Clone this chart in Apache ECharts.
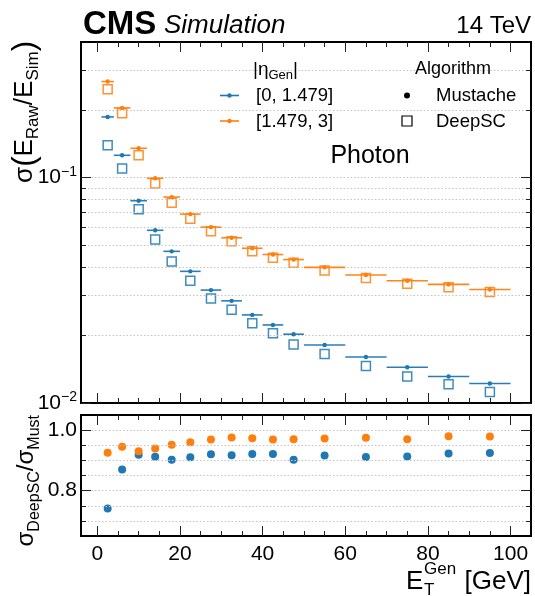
<!DOCTYPE html>
<html><head><meta charset="utf-8">
<script src="https://cdn.jsdelivr.net/npm/echarts@6/dist/echarts.min.js"></script>
<style>html,body{margin:0;padding:0;background:#fff}#c{width:535px;height:596px}</style>
</head><body><div id="c"></div>
<script>
// ---- data ----
const binCenter = [2.5, 6, 10, 14, 18, 22.5, 27.5, 32.5, 37.5, 42.5, 47.5, 55, 65, 75, 85, 95];
const binLow    = [1, 4, 8, 12, 16, 20, 25, 30, 35, 40, 45, 50, 60, 70, 80, 90];
const binHigh   = [4, 8, 12, 16, 20, 25, 30, 35, 40, 45, 50, 60, 70, 80, 90, 100];
const mustacheEB = [0.186, 0.1257, 0.0790, 0.0584, 0.0471, 0.0384, 0.0317, 0.0284, 0.0246, 0.0222, 0.0202, 0.0181, 0.0160, 0.0144, 0.0131, 0.0122];
const deepSCEB   = [0.1392, 0.1097, 0.0725, 0.0531, 0.0425, 0.0349, 0.0291, 0.0259, 0.0226, 0.0204, 0.0182, 0.0165, 0.0146, 0.0131, 0.0121, 0.0112];
const mustacheEE = [0.267, 0.204, 0.135, 0.0994, 0.0820, 0.0689, 0.0603, 0.0541, 0.0486, 0.0456, 0.0433, 0.0400, 0.0370, 0.0349, 0.0336, 0.0319];
const deepSCEE   = [0.247, 0.1933, 0.1257, 0.0943, 0.0774, 0.0657, 0.0579, 0.0522, 0.0471, 0.0441, 0.0419, 0.0387, 0.0359, 0.0338, 0.0326, 0.0311];
const ratioEB = [0.741, 0.870, 0.919, 0.912, 0.902, 0.910, 0.920, 0.917, 0.921, 0.921, 0.902, 0.916, 0.911, 0.913, 0.923, 0.924];
const ratioEE = [0.925, 0.945, 0.930, 0.939, 0.952, 0.960, 0.969, 0.976, 0.973, 0.969, 0.970, 0.972, 0.975, 0.970, 0.980, 0.979];
const xMajorTicks = [0, 20, 40, 60, 80, 100];
const xMinorTicks = [5, 10, 15, 25, 30, 35, 45, 50, 55, 65, 70, 75, 85, 90, 95];
const yTopMajorTicks = [0.01, 0.1];
const yTopMinorTicks = [0.02, 0.03, 0.04, 0.05, 0.06, 0.07, 0.08, 0.09, 0.2, 0.3];
const yBotMajorTicks = [0.8, 1.0];
const yBotMinorTicks = [0.7, 0.75, 0.85, 0.9, 0.95];
const yBotGrid = [0.7, 0.75, 0.8, 0.85, 0.9, 0.95, 1.0];
const yTopGrid = [0.02, 0.03, 0.04, 0.05, 0.06, 0.07, 0.08, 0.09, 0.1, 0.2, 0.3];

// ---- style / layout ----
const FONT = "'Liberation Sans', Arial, sans-serif";
const BLUE = '#1f77b4', ORANGE = '#ff7f0e';
const X_MIN = -3.95, X_MAX = 104.95;
const Y_TOP_MIN = 0.01, Y_TOP_MAX = 0.4, Y_BOT_MIN = 0.65, Y_BOT_MAX = 1.05;
const GRID_LEFT = 81, GRID_RIGHT = 4, PLOT_W = 535 - GRID_LEFT - GRID_RIGHT;
const TOP_H = 361, BOT_H = 121;
const TICK_COLOR = '#222';

const topLabel = { show: true, customValues: yTopMajorTicks, margin: 4,
  formatter: v => (v < 0.05 ? '{b|10}{s|−2}' : '{b|10}{s|−1}'),
  rich: { b: { fontFamily: FONT, fontSize: 21, lineHeight: 26, color: '#000' },
          s: { fontFamily: FONT, fontSize: 14, lineHeight: 14, verticalAlign: 'top', color: '#000' } } };
const botLabel = { show: true, customValues: yBotMajorTicks, margin: 4, fontFamily: FONT, fontSize: 21, color: '#000',
  formatter: v => v.toFixed(1) };

const xAxes = [0, 1].map(g => ({ gridIndex: g, type: 'value', min: X_MIN, max: X_MAX, position: 'bottom',
  axisLine: { show: false }, axisTick: { show: false }, splitLine: { show: false },
  axisLabel: g === 1 ? { show: true, customValues: xMajorTicks, fontFamily: FONT, fontSize: 21, color: '#000', margin: 8 } : { show: false } }));
const yAxes = [
  { gridIndex: 0, type: 'log', min: Y_TOP_MIN, max: Y_TOP_MAX, axisLine: { show: false }, axisTick: { show: false }, splitLine: { show: false }, axisLabel: topLabel },
  { gridIndex: 1, type: 'value', min: Y_BOT_MIN, max: Y_BOT_MAX, axisLine: { show: false }, axisTick: { show: false }, splitLine: { show: false }, axisLabel: botLabel }
];

// inside tick marks on all four sides, as short markLine segments in data coordinates
function tickMarks(idx, yMaj, yMin, yLo, yHi, H, isLog) {
  const yStep = px => isLog ? yLo * Math.pow(yHi / yLo, px / H) : yLo + (yHi - yLo) * px / H;
  const yStepDown = px => isLog ? yHi / Math.pow(yHi / yLo, px / H) : yHi - (yHi - yLo) * px / H;
  const xStep = px => (X_MAX - X_MIN) * px / PLOT_W;
  const segs = [];
  const xt = (v, len) => {
    segs.push([{ coord: [v, yLo] }, { coord: [v, yStep(len)] }]);
    segs.push([{ coord: [v, yHi] }, { coord: [v, yStepDown(len)] }]);
  };
  const yt = (v, len) => {
    segs.push([{ coord: [X_MIN, v] }, { coord: [X_MIN + xStep(len), v] }]);
    segs.push([{ coord: [X_MAX, v] }, { coord: [X_MAX - xStep(len), v] }]);
  };
  xMajorTicks.forEach(v => xt(v, 10));
  xMinorTicks.forEach(v => xt(v, 5));
  yMaj.forEach(v => yt(v, 10));
  yMin.forEach(v => yt(v, 5));
  return { type: 'line', xAxisIndex: idx, yAxisIndex: idx, data: [], z: 6,
    markLine: { silent: true, symbol: 'none', animation: false, label: { show: false }, precision: 10,
      lineStyle: { color: TICK_COLOR, type: 'solid', width: 1 }, data: segs } };
}

function errSeries(vals, color) {
  return { type: 'custom', xAxisIndex: 0, yAxisIndex: 0, z: 5,
    data: binCenter.map((x, i) => [x, vals[i], binLow[i], binHigh[i]]),
    encode: { x: 0, y: 1 },
    renderItem: (params, api) => {
      const y = api.value(1);
      const p0 = api.coord([api.value(2), y]);
      const p1 = api.coord([api.value(3), y]);
      const c = api.coord([api.value(0), y]);
      return { type: 'group', children: [
        { type: 'line', shape: { x1: p0[0], y1: p0[1], x2: p1[0], y2: p1[1] }, style: { stroke: color, lineWidth: 1.6, opacity: 0.95 } },
        { type: 'circle', shape: { cx: c[0], cy: c[1], r: 2.2 }, style: { fill: color } }
      ] };
    } };
}
function squareSeries(vals, color) {
  return { type: 'scatter', xAxisIndex: 0, yAxisIndex: 0, z: 4,
    data: binCenter.map((x, i) => [x, vals[i]]), symbol: 'rect', symbolSize: 9,
    itemStyle: { color: 'rgba(0,0,0,0)', borderColor: color, borderWidth: 1.5, opacity: 0.85 } };
}
function ratioSeries(vals, color) {
  return { type: 'scatter', xAxisIndex: 1, yAxisIndex: 1, z: 4,
    data: binCenter.map((x, i) => [x, vals[i]]), symbol: 'circle', symbolSize: 8,
    itemStyle: { color: color, opacity: 1 } };
}
function gridLines(idx, vals) {
  return { type: 'line', xAxisIndex: idx, yAxisIndex: idx, data: [], z: 1,
    markLine: { silent: true, symbol: 'none', animation: false, label: { show: false },
      lineStyle: { color: '#c4c4c4', type: [1.5, 2], width: 1 },
      data: vals.map(v => ({ yAxis: v })) } };
}

const T = (text, x, y, size, opts) => ({ type: 'text', x: x, y: y, z: 50,
  style: Object.assign({ text: text, fontFamily: FONT, fontSize: size, fill: '#000', align: 'left', verticalAlign: 'middle' }, opts || {}) });

const subRich = (size, sub) => ({
  m: { fontFamily: FONT, fontSize: size, lineHeight: 34, fill: '#000' },
  p: { fontFamily: FONT, fontSize: size + 5, lineHeight: 34, fill: '#000' },
  s: { fontFamily: FONT, fontSize: sub, lineHeight: sub, verticalAlign: 'bottom', fill: '#000' } });

const graphics = [
  T('CMS', 83, 25, 33, { fontWeight: 'bold' }),
  T('Simulation', 164, 26, 26, { fontStyle: 'italic' }),
  T('14 TeV', 531, 26, 24, { align: 'right' }),
  // legend 1
  T('{m||η}{s|Gen}{m||}', 253, 70, 18, { rich: {
    m: { fontFamily: FONT, fontSize: 19, lineHeight: 24 },
    s: { fontFamily: FONT, fontSize: 13, lineHeight: 13, verticalAlign: 'bottom' } } }),
  { type: 'line', z: 50, shape: { x1: 220, y1: 95.5, x2: 239, y2: 95.5 }, style: { stroke: BLUE, lineWidth: 1.6 } },
  { type: 'circle', z: 50, shape: { cx: 229.5, cy: 95.5, r: 2.2 }, style: { fill: BLUE } },
  T('[0, 1.479]', 256, 96, 18.5),
  { type: 'line', z: 50, shape: { x1: 220, y1: 121, x2: 239, y2: 121 }, style: { stroke: ORANGE, lineWidth: 1.6 } },
  { type: 'circle', z: 50, shape: { cx: 229.5, cy: 121, r: 2.2 }, style: { fill: ORANGE } },
  T('[1.479, 3]', 256, 121.5, 18.5),
  // legend 2
  T('Algorithm', 453, 69.5, 18, { align: 'center' }),
  { type: 'circle', z: 50, shape: { cx: 407, cy: 95.5, r: 3 }, style: { fill: '#000' } },
  T('Mustache', 436, 96, 18.5),
  { type: 'rect', z: 50, shape: { x: 402, y: 116, width: 10, height: 10 }, style: { fill: 'none', stroke: '#000', lineWidth: 1.2 } },
  T('DeepSC', 436, 121.5, 18.5),
  T('Photon', 370, 156, 25, { align: 'center' }),
  // y titles
  { type: 'text', x: 25, y: 41, rotation: Math.PI / 2, z: 50,
    style: { text: '{m|σ}{p|(}{m|E}{s|Raw}{m|/E}{s|Sim}{p|)}', align: 'right', verticalAlign: 'middle', rich: subRich(26, 17) } },
  { type: 'text', x: 26, y: 415, rotation: Math.PI / 2, z: 50,
    style: { text: '{m|σ}{s|DeepSC}{m|/σ}{s|Must}', align: 'right', verticalAlign: 'middle', rich: subRich(24, 16) } },
  // x title
  T('E', 406, 582, 26),
  T('T', 424, 590, 17),
  T('Gen', 424, 569, 17),
  T('[GeV]', 531, 582, 26, { align: 'right' })
];

const chart = echarts.init(document.getElementById('c'), null, { renderer: 'canvas' });
chart.setOption({
  animation: false,
  backgroundColor: '#fff',
  grid: [
    { left: GRID_LEFT, right: GRID_RIGHT, top: 42, height: TOP_H, show: true, borderColor: '#000', borderWidth: 2, backgroundColor: 'rgba(0,0,0,0)' },
    { left: GRID_LEFT, right: GRID_RIGHT, top: 415, height: BOT_H, show: true, borderColor: '#000', borderWidth: 2, backgroundColor: 'rgba(0,0,0,0)' }
  ],
  xAxis: xAxes,
  yAxis: yAxes,
  series: [
    gridLines(0, yTopGrid),
    gridLines(1, yBotGrid),
    tickMarks(0, yTopMajorTicks, yTopMinorTicks, Y_TOP_MIN, Y_TOP_MAX, TOP_H, true),
    tickMarks(1, yBotMajorTicks, yBotMinorTicks, Y_BOT_MIN, Y_BOT_MAX, BOT_H, false),
    squareSeries(deepSCEB, BLUE),
    squareSeries(deepSCEE, ORANGE),
    errSeries(mustacheEB, BLUE),
    errSeries(mustacheEE, ORANGE),
    ratioSeries(ratioEB, BLUE),
    ratioSeries(ratioEE, ORANGE)
  ],
  graphic: graphics
});
</script></body></html>
